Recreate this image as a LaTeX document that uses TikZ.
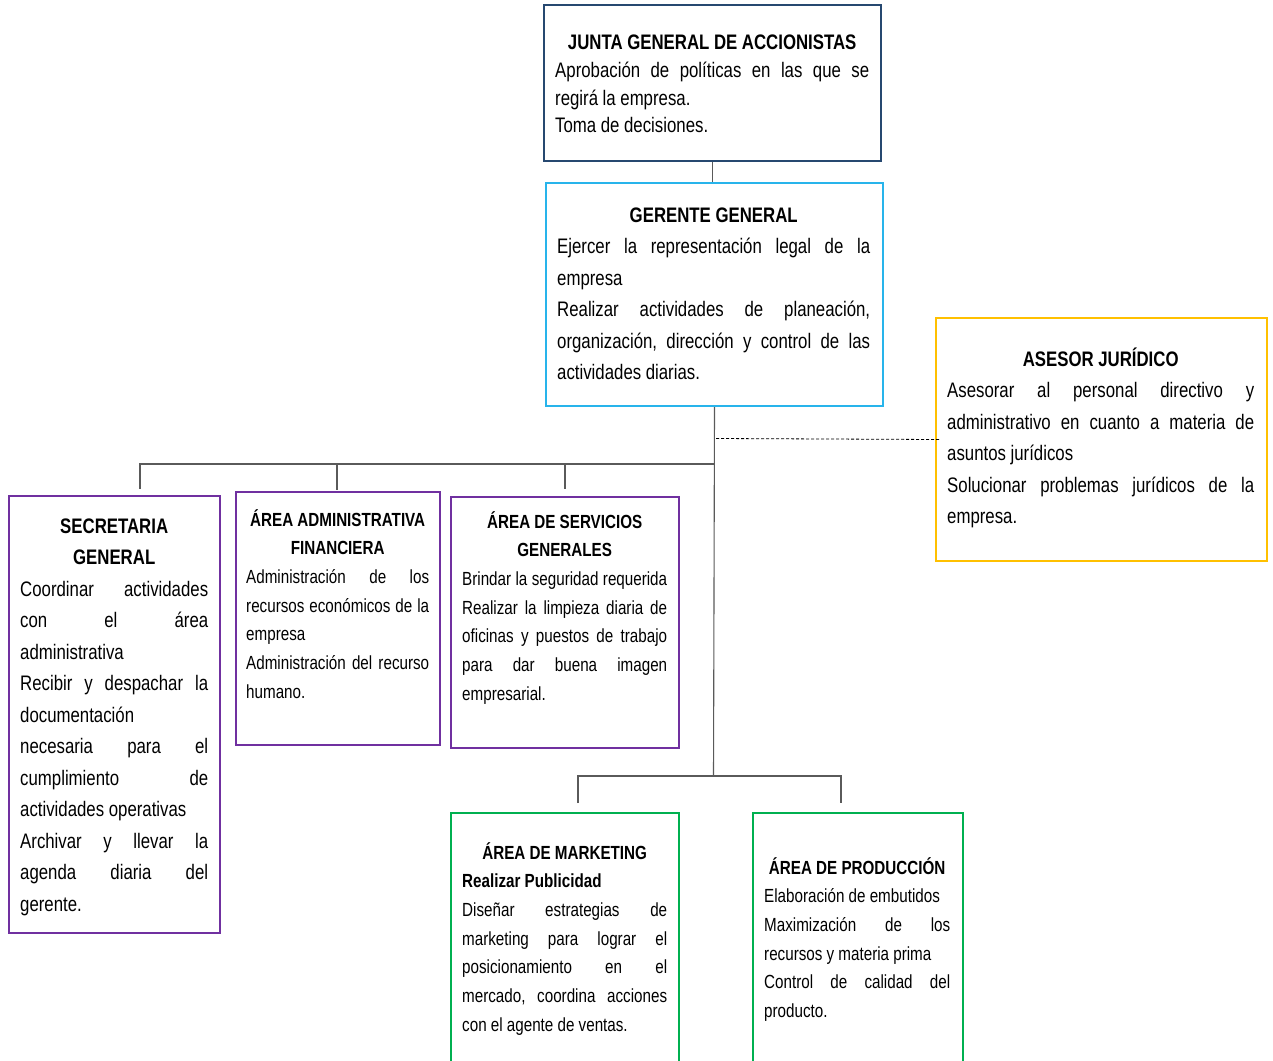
\documentclass[tikz,border=0pt]{standalone}
\usepackage{fontspec}
\setmainfont{Liberation Sans}[FakeStretch=0.8]
\newcommand\J[1]{{\spaceskip=3pt plus 1fil\relax\makebox[\hsize][s]{#1}}}
\newcommand\C[1]{\makebox[\hsize]{\bfseries #1}}
\definecolor{navy}{RGB}{38,72,112}
\definecolor{cyanb}{RGB}{40,180,235}
\definecolor{gold}{RGB}{255,192,0}
\definecolor{purp}{RGB}{112,48,160}
\definecolor{grn}{RGB}{0,176,80}
\definecolor{conncol}{RGB}{90,90,90}
\begin{document}
\begin{tikzpicture}[x=1pt,y=-1pt,
  box/.style={draw=#1,line width=2pt,anchor=north west,inner sep=0pt,fill=white},
  txt/.style={anchor=base west,inner sep=0pt,text width=#1,align=left},
  big/.style={font=\fontsize{21}{31.5}\selectfont,execute at begin node={\frenchspacing\spaceskip=4.6pt plus 2pt minus 1pt\relax}},
  small/.style={font=\fontsize{19}{28.7}\selectfont,execute at begin node={\frenchspacing\spaceskip=4.2pt plus 2pt minus 1pt\relax}},
  topf/.style={font=\fontsize{21}{27.3}\selectfont,execute at begin node={\frenchspacing\spaceskip=4.6pt plus 2pt minus 1pt\relax}},
  conn/.style={draw=conncol,line width=1.1pt},
  dash line/.style={draw=black,line width=0.8pt,dash pattern=on 3pt off 2pt}]
\useasboundingbox (0,0) rectangle (1273,1060);
\clip (0,0) rectangle (1273,1060);
\fill[white] (0,0) rectangle (1273,1060);

% boxes
\node[box=navy,minimum width=337pt,minimum height=156pt] (junta) at (543,4) {};
\node[box=cyanb,minimum width=337pt,minimum height=223pt] (ger) at (545,182) {};
\node[box=gold,minimum width=331pt,minimum height=243pt] (ase) at (935,317) {};
\node[box=purp,minimum width=211pt,minimum height=437pt] (sec) at (8,495) {};
\node[box=purp,minimum width=204pt,minimum height=253pt] (adm) at (235,491) {};
\node[box=purp,minimum width=228pt,minimum height=251pt] (ser) at (450,496) {};
\node[box=grn,minimum width=228pt,minimum height=270pt] (mkt) at (450,812) {};
\node[box=grn,minimum width=210pt,minimum height=270pt] (pro) at (752,812) {};

% texts
\node[txt=314pt,topf] (juntaT) at (555,49) {%
\C{JUNTA GENERAL DE ACCIONISTAS}\\[1.5pt]
\J{Aprobación de políticas en las que se}\\
regirá la empresa.\\
Toma de decisiones.};

\node[txt=313pt,big] (gerT) at (557,222) {%
\C{GERENTE GENERAL}\\
\J{Ejercer la representación legal de la}\\
empresa\\
\J{Realizar actividades de planeación,}\\
\J{organización, dirección y control de las}\\
actividades diarias.};

\node[txt=307pt,big] (aseT) at (947,366) {%
\C{ASESOR JURÍDICO}\\
\J{Asesorar al personal directivo y}\\
\J{administrativo en cuanto a materia de}\\
asuntos jurídicos\\
\J{Solucionar problemas jurídicos de la}\\
empresa.};

\node[txt=188pt,big] (secT) at (20,533) {%
\C{SECRETARIA}\\
\C{GENERAL}\\
\J{Coordinar actividades}\\
\J{con el área}\\
administrativa\\
\J{Recibir y despachar la}\\
documentación\\
\J{necesaria para el}\\
\J{cumplimiento de}\\
actividades operativas\\
\J{Archivar y llevar la}\\
\J{agenda diaria del}\\
gerente.};

\node[txt=183pt,small] (admT) at (246,526) {%
\C{ÁREA ADMINISTRATIVA}\\
\C{FINANCIERA}\\
\J{Administración de los}\\
\J{recursos económicos de la}\\
empresa\\
\J{Administración del recurso}\\
humano.};

\node[txt=205pt,small] (serT) at (462,528) {%
\C{ÁREA DE SERVICIOS}\\
\C{GENERALES}\\
\J{Brindar la seguridad requerida}\\
\J{Realizar la limpieza diaria de}\\
\J{oficinas y puestos de trabajo}\\
\J{para dar buena imagen}\\
empresarial.};

\node[txt=205pt,small] (mktT) at (462,859) {%
\C{ÁREA DE MARKETING}\\
\textbf{Realizar Publicidad}\\
\J{Diseñar estrategias de}\\
\J{marketing para lograr el}\\
\J{posicionamiento en el}\\
\J{mercado, coordina acciones}\\
con el agente de ventas.};

\node[txt=186pt,small] (proT) at (764,874) {%
\C{ÁREA DE PRODUCCIÓN}\\
Elaboración de embutidos\\
\J{Maximización de los}\\
recursos y materia prima\\
\J{Control de calidad del}\\
producto.};

% connector points
\coordinate (busR) at (713.5,464);
\coordinate (busL) at (140,464);
\coordinate (secE) at (140,489);
\coordinate (admB) at (337,464);
\coordinate (admE) at (337,490);
\coordinate (serB) at (565,464);
\coordinate (serE) at (565,489);
\coordinate (lowM) at (713.5,776);
\coordinate (lowL) at (578,776);
\coordinate (lowR) at (841,776);
\coordinate (mktE) at (578,803);
\coordinate (proE) at (841,803);
\coordinate (dashS) at (716,438.5);

\draw[conn] (junta.south) -- (junta.south |- ger.north);
\draw[conn] (ger.south) -- (lowM);
\draw[conn] (busR) -- (busL) -- (secE);
\draw[conn] (admB) -- (admE);
\draw[conn] (serB) -- (serE);
\draw[conn] (mktE) -- (lowL) -- (lowR) -- (proE);
\draw[dash line] (dashS) -- ([xshift=4pt]ase.west);
\end{tikzpicture}
\end{document}
